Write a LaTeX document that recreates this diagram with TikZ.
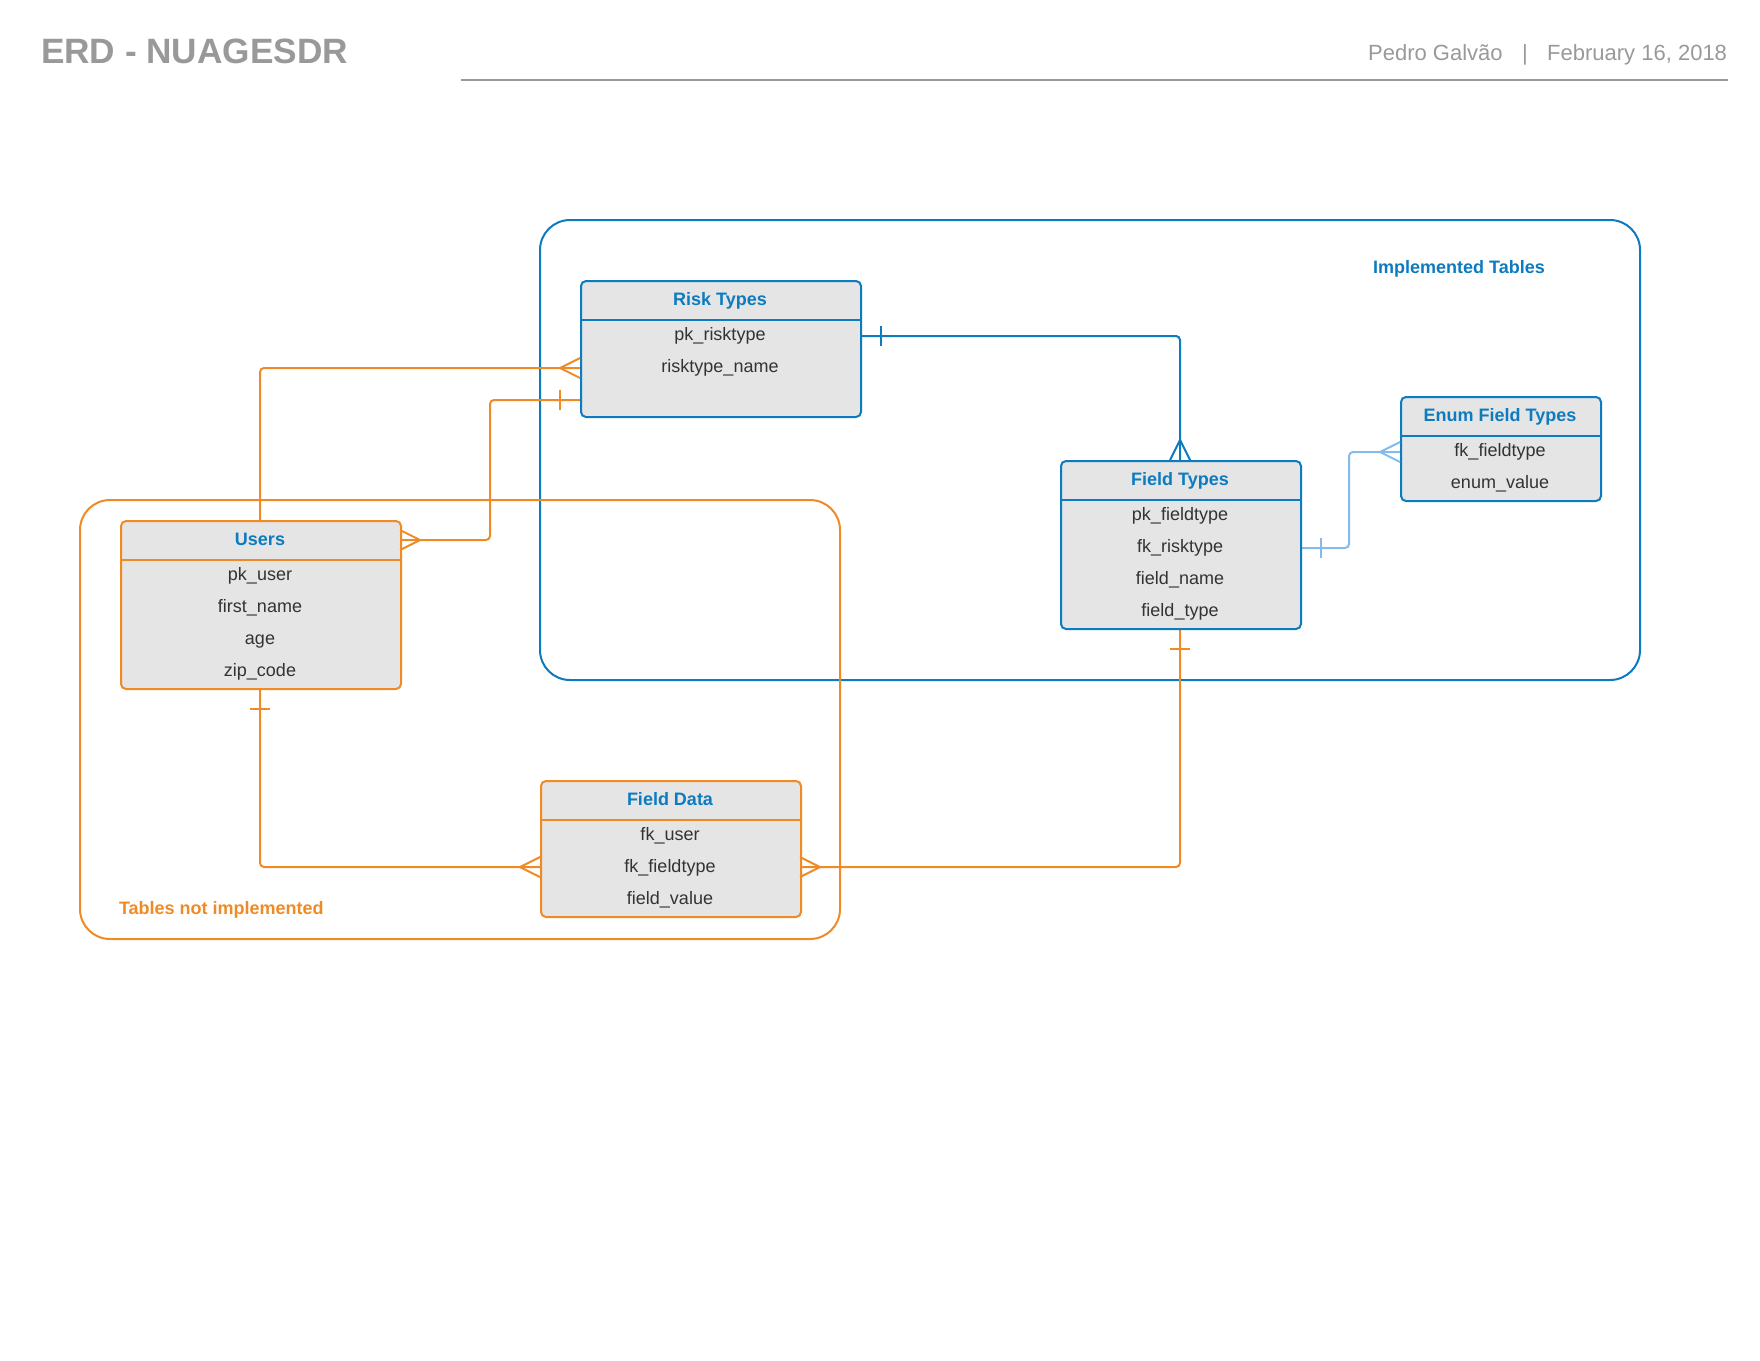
\documentclass[tikz,border=0pt]{standalone}
\usepackage{fontspec}
\setmainfont{Liberation Sans}
\usetikzlibrary{positioning}

\definecolor{erdblue}{HTML}{0C7BBF}
\definecolor{erdorange}{HTML}{F08A24}
\definecolor{erdlight}{HTML}{84BBEA}
\definecolor{cellgray}{HTML}{E5E5E5}
\definecolor{textgray}{HTML}{333333}
\definecolor{headgray}{HTML}{999999}

\begin{document}
\begin{tikzpicture}[x=0.5pt, y=-0.5pt, line width=1pt,
  tbl/.style={draw=#1, fill=cellgray, rounded corners=2.5pt, inner sep=0pt, anchor=north west},
  ttl/.style={font=\fontsize{9}{11}\selectfont\bfseries, text=erdblue, text height=6.6pt, text depth=1.9pt},
  row/.style={font=\fontsize{9}{11}\selectfont, text=textgray, text height=6.6pt, text depth=1.9pt},
  link/.style={draw=#1, rounded corners=2pt},
  crow/.pic={\draw (0,0) -- (20,-10) (0,0) -- (20,10);},
  bar/.pic={\draw (0,-10) -- (0,10);}]
\useasboundingbox (0,0) rectangle (1760,1360);

\node[font=\fontsize{17.6}{20}\selectfont\bfseries, text=headgray, anchor=west, inner sep=0pt] (title) at (40,51) {ERD - NUAGESDR};
\node[font=\fontsize{11}{13}\selectfont, text=headgray, anchor=east, inner sep=0pt] (author) at (1728,55) {Pedro Galvão\hspace{9.7pt}|\hspace{9.7pt}February 16, 2018};
\draw[headgray] (461,80) -- (1728,80);

\draw[erdblue, rounded corners=15pt] (540,220) rectangle (1640,680);
\draw[erdorange, rounded corners=15pt] (80,500) rectangle (840,939);
\node[ttl] (impl) at (1459,269) {Implemented Tables};
\node[ttl, text=erdorange, anchor=west, inner sep=0pt] (notimpl) at (118,910) {Tables not implemented};

\coordinate (riskA) at (580,336);
\coordinate (riskB) at (580,368);
\coordinate (riskC) at (580,400);

\draw[link=erdblue] (860,336) -| (1180,460);
\draw[link=erdorange] (260,520) |- (riskB);
\draw[link=erdorange] (400,540) -- (490,540) |- (riskC);
\draw[link=erdlight] (1300,548) -- (1349,548) |- (1400,452);
\draw[link=erdorange] (260,688) |- (540,867);
\draw[link=erdorange] (1180,628) |- (800,867);

\node[tbl=erdblue, minimum width=140pt, minimum height=68pt] (risk) at (580,280) {};
\node[ttl] (risk-t) at (720,301) {Risk Types};
\draw[erdblue] (risk.west |- 0,320) -- (risk.east |- 0,320);
\foreach \y/\t [count=\i] in {336/pk\_risktype, 368/risktype\_name}
  \node[row] (risk-\i) at (720,\y) {\t};

\node[tbl=erdblue, minimum width=120pt, minimum height=84pt] (ftype) at (1060,460) {};
\node[ttl] (ftype-t) at (1180,481) {Field Types};
\draw[erdblue] (ftype.west |- 0,500) -- (ftype.east |- 0,500);
\foreach \y/\t [count=\i] in {516/pk\_fieldtype, 548/fk\_risktype, 580/field\_name, 612/field\_type}
  \node[row] (ftype-\i) at (1180,\y) {\t};

\node[tbl=erdblue, minimum width=100pt, minimum height=52pt] (enum) at (1400,396) {};
\node[ttl] (enum-t) at (1500,417) {Enum Field Types};
\draw[erdblue] (enum.west |- 0,436) -- (enum.east |- 0,436);
\foreach \y/\t [count=\i] in {452/fk\_fieldtype, 484/enum\_value}
  \node[row] (enum-\i) at (1500,\y) {\t};

\node[tbl=erdorange, minimum width=140pt, minimum height=84pt] (users) at (120,520) {};
\node[ttl] (users-t) at (260,541) {Users};
\draw[erdorange] (users.west |- 0,560) -- (users.east |- 0,560);
\foreach \y/\t [count=\i] in {576/pk\_user, 608/first\_name, 640/age, 672/zip\_code}
  \node[row] (users-\i) at (260,\y) {\t};

\node[tbl=erdorange, minimum width=130pt, minimum height=68pt] (fdata) at (540,780) {};
\node[ttl] (fdata-t) at (670,801) {Field Data};
\draw[erdorange] (fdata.west |- 0,820) -- (fdata.east |- 0,820);
\foreach \y/\t [count=\i] in {836/fk\_user, 868/fk\_fieldtype, 900/field\_value}
  \node[row] (fdata-\i) at (670,\y) {\t};

\pic[erdblue] at (881,336) {bar};
\pic[erdblue, rotate=-90] at (1180,440) {crow};
\pic[erdorange, rotate=90] at (260,500) {bar};
\pic[erdorange] at (560,368) {crow};
\pic[erdorange, rotate=180] at (420,540) {crow};
\pic[erdorange] at (560,400) {bar};
\pic[erdlight] at (1321,548) {bar};
\pic[erdlight] at (1380,452) {crow};
\pic[erdorange, rotate=90] at (260,709) {bar};
\pic[erdorange] at (520,867) {crow};
\pic[erdorange, rotate=90] at (1180,649) {bar};
\pic[erdorange, rotate=180] at (820,867) {crow};
\end{tikzpicture}
\end{document}
